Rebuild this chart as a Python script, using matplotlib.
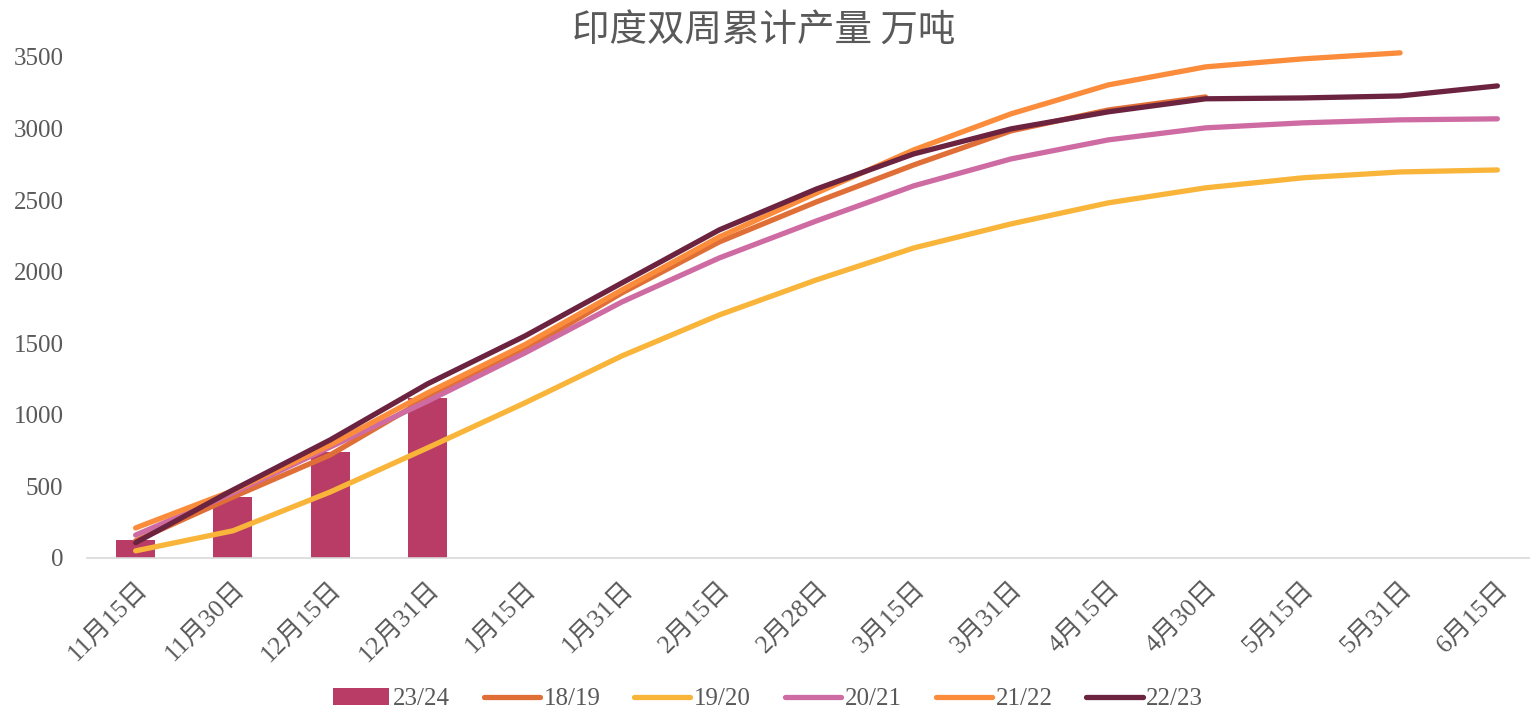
import matplotlib
matplotlib.use("Agg")
import matplotlib.pyplot as plt
import numpy as np

categories = ["11月15日", "11月30日", "12月15日", "12月31日", "1月15日", "1月31日", "2月15日",
              "2月28日", "3月15日", "3月31日", "4月15日", "4月30日", "5月15日", "5月31日", "6月15日"]

bar_2324 = [126, 428, 739, 1118]
s_1819 = [120, 426, 720, 1118, 1453, 1852, 2208, 2488, 2746, 2984, 3130, 3221]
s_1920 = [50, 190, 461, 769, 1083, 1412, 1698, 1943, 2166, 2334, 2481, 2586, 2656, 2697, 2711]
s_2021 = [160, 454, 775, 1095, 1432, 1789, 2096, 2355, 2600, 2788, 2921, 3005, 3040, 3061, 3068]
s_2122 = [210, 470, 790, 1153, 1490, 1873, 2243, 2550, 2851, 3103, 3305, 3431, 3487, 3529]
s_2223 = [107, 475, 825, 1216, 1550, 1922, 2292, 2578, 2823, 2998, 3117, 3208, 3214, 3228, 3298]

yticks = [0, 500, 1000, 1500, 2000, 2500, 3000, 3500]

c_bar = "#B93C66"
colors = {"18/19": "#E06F37", "19/20": "#F9B43A", "20/21": "#CF6BA3",
          "21/22": "#FA8C3B", "22/23": "#6B2340"}
txt = "#595959"
fam = ["Liberation Serif", "Noto Sans CJK SC"]

W, H = 1530, 712
fig = plt.figure(figsize=(W / 100, H / 100), dpi=100)
left, right = 87, 1546
bottom_px = 558
px_per_unit = (558 - 57) / 3500
ymax = 3700
top_px = bottom_px - ymax * px_per_unit
ax = fig.add_axes([left / W, 1 - bottom_px / H, (right - left) / W, (bottom_px - top_px) / H])

x = np.arange(len(categories))
bar = ax.bar(x[:len(bar_2324)], bar_2324, width=0.4, color=c_bar, label="23/24", zorder=1)

series = [("18/19", s_1819), ("19/20", s_1920), ("20/21", s_2021), ("21/22", s_2122), ("22/23", s_2223)]
line_handles = []
for name, vals in series:
    ln, = ax.plot(x[:len(vals)], vals, color=colors[name], lw=3.8, solid_capstyle="round",
                  solid_joinstyle="round", label=name, zorder=2, clip_on=False)
    line_handles.append(ln)

ax.set_xlim(-0.5, len(categories) - 0.5)
ax.set_ylim(0, ymax)
ax.set_yticks(yticks)
ax.set_yticklabels([str(v) for v in yticks], family=fam, fontsize=18, color=txt)
ax.set_xticks(x)
ax.set_xticklabels(categories, family=fam, fontsize=18.5, color=txt, rotation=45,
                   ha="right", va="top", rotation_mode="anchor")
ax.tick_params(axis="both", length=0)
ax.tick_params(axis="x", pad=14)
ax.tick_params(axis="y", pad=17)
for s in ["top", "right", "left"]:
    ax.spines[s].set_visible(False)
ax.spines["bottom"].set_color("#D9D9D9")
ax.spines["bottom"].set_linewidth(1.2)

fig.text(0.499, 1 - 31 / H, "印度双周累计产量 万吨", family=["Noto Sans CJK SC", "DejaVu Sans"],
         fontsize=27, color=txt, ha="center", va="center")

handles = [bar] + line_handles
labels = ["23/24"] + [n for n, _ in series]
leg = fig.legend(handles, labels, loc="center", bbox_to_anchor=(0.502, 1 - 699 / H), ncol=6,
                 frameon=False, prop={"family": fam, "size": 18}, handlelength=2.25,
                 columnspacing=1.35, handletextpad=0.15)
for t in leg.get_texts():
    t.set_color(txt)

fig.savefig("out.png", dpi=100)
